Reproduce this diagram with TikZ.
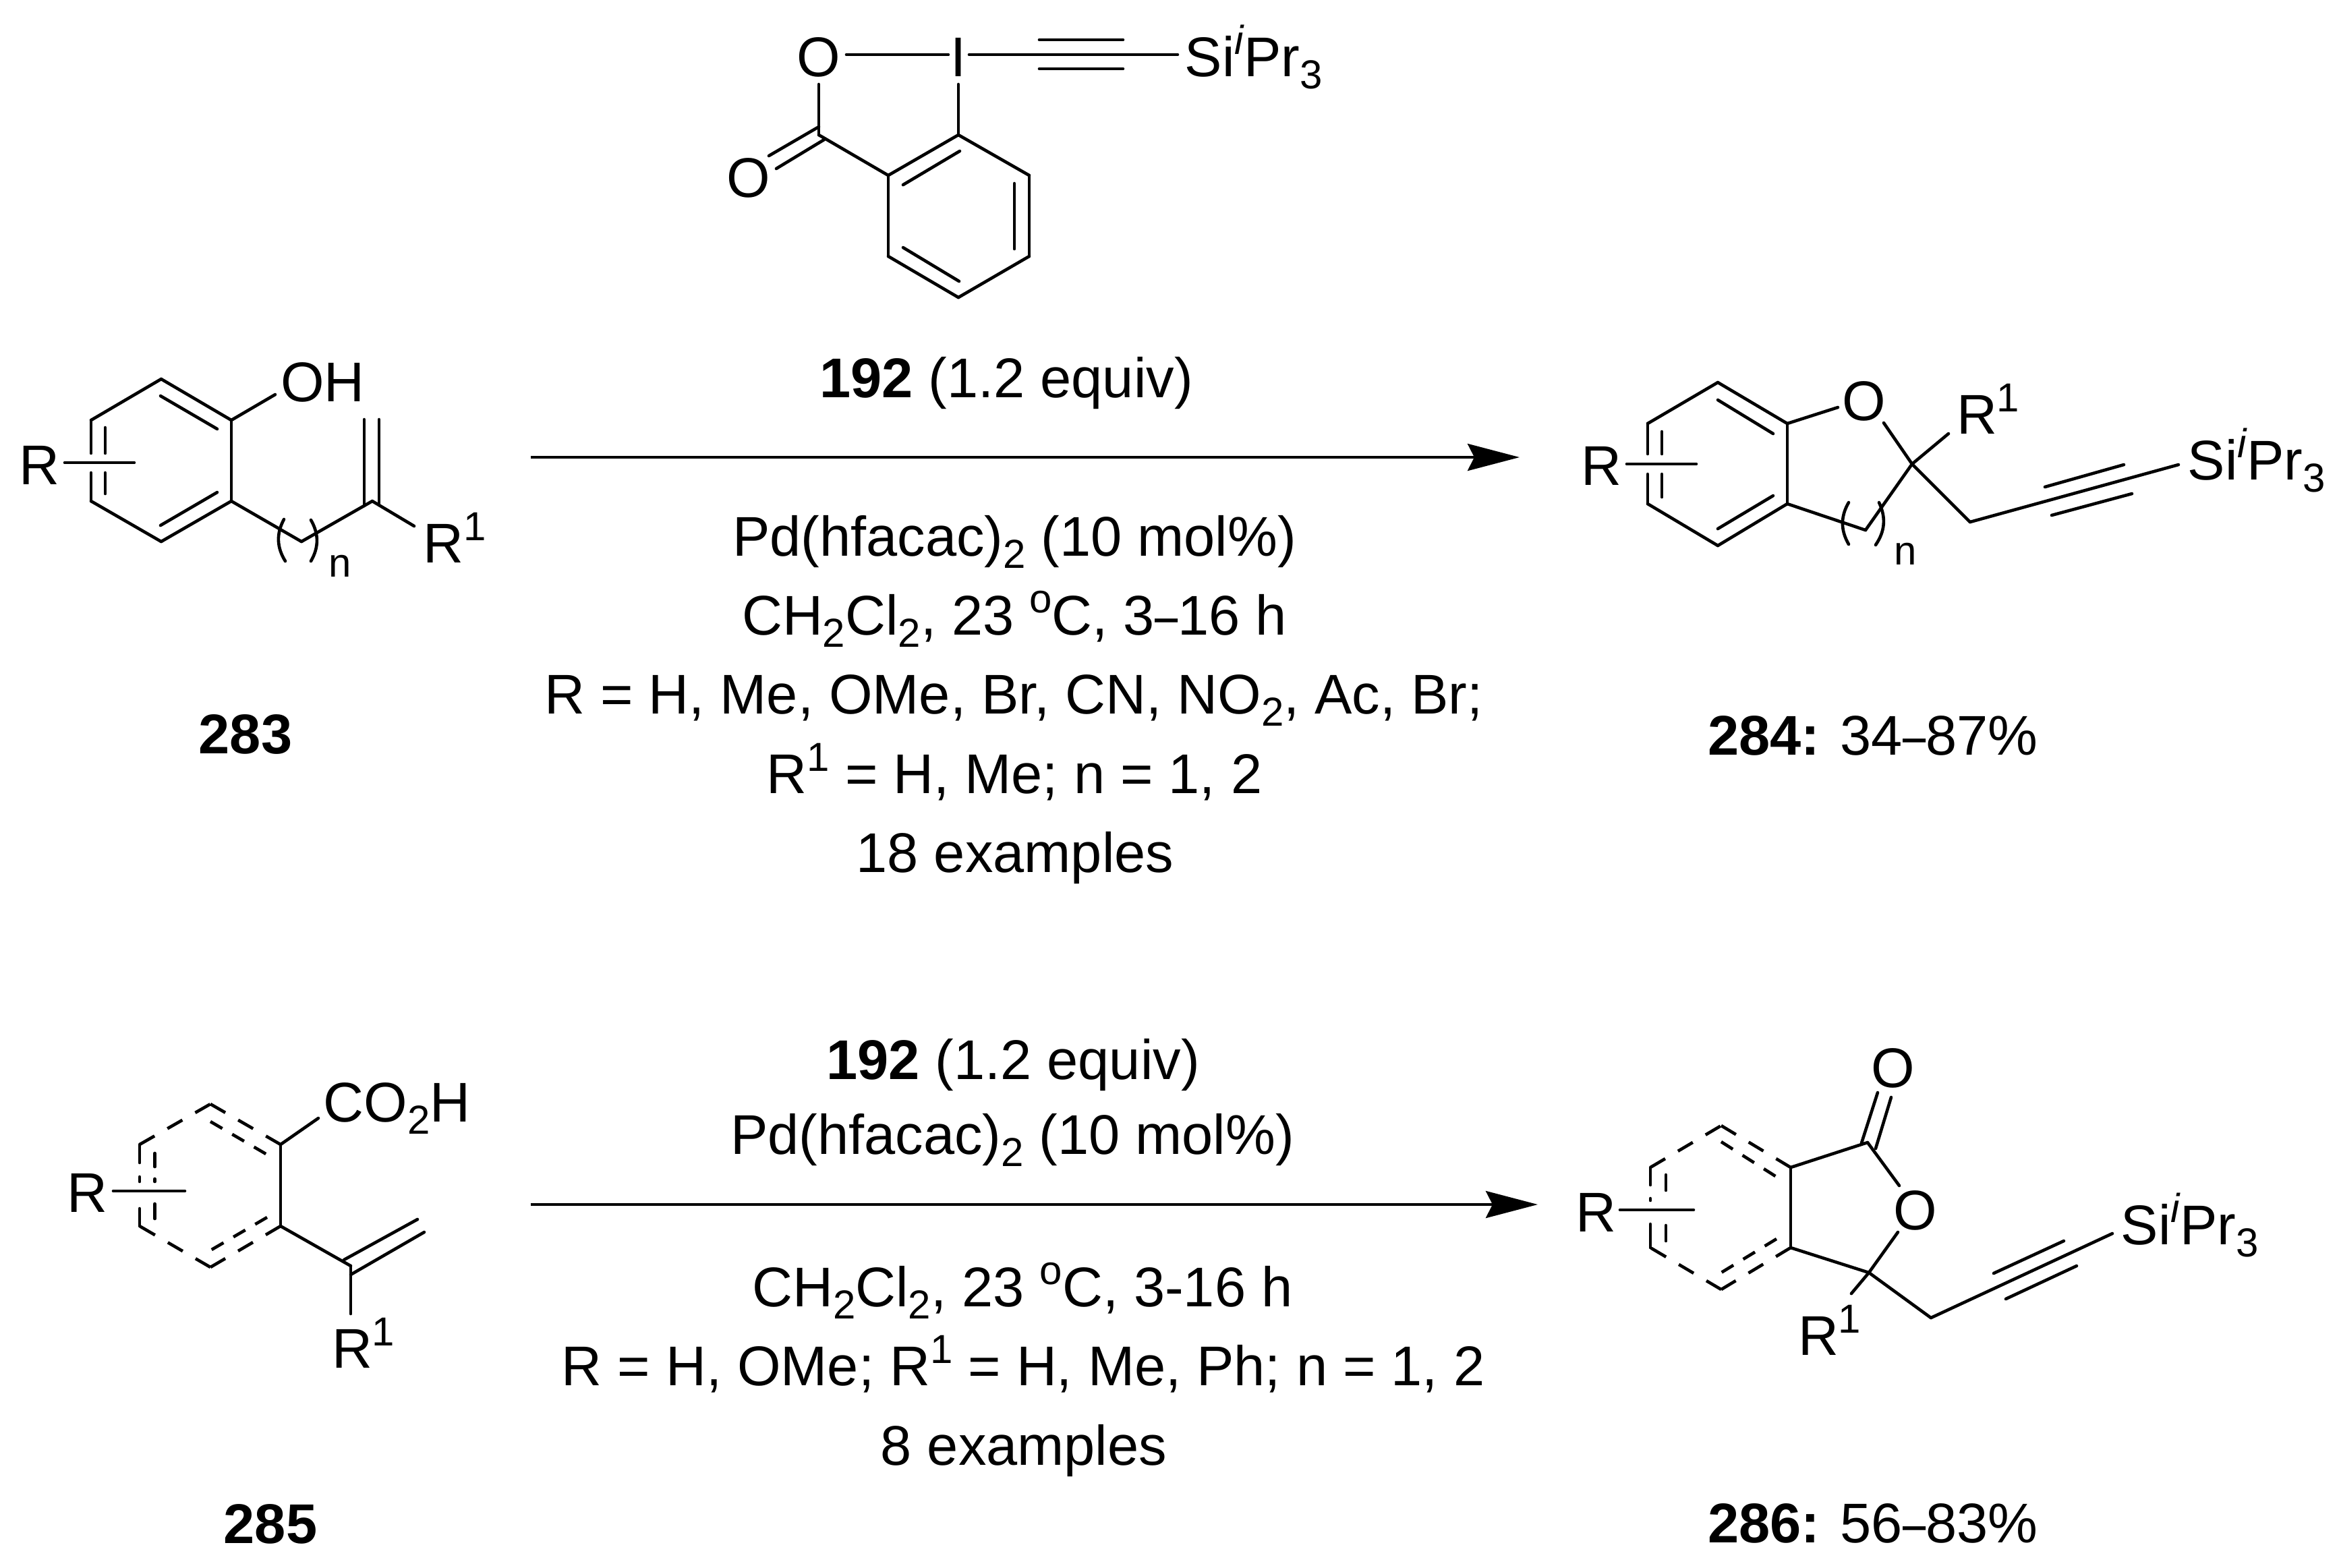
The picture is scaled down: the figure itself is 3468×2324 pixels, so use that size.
\documentclass[tikz,border=0pt]{standalone}
\usepackage{fontspec}
\setmainfont{Liberation Sans}
\usetikzlibrary{arrows.meta}

\newcommand{\chemfont}{\fontsize{8.3pt}{10pt}\selectfont}
\newcommand{\chemup}[1]{\raisebox{3.3pt}{\fontsize{6pt}{7pt}\selectfont #1}}
\newcommand{\chemdn}[1]{\raisebox{-1.8pt}{\fontsize{6pt}{7pt}\selectfont #1}}
\newcommand{\tips}{Si\chemup{\itshape i}Pr\chemdn{3}}
\newcommand{\rangedash}{\scalebox{0.74}[1]{–}}

\begin{document}
\begin{tikzpicture}[
        x=0.1pt, y=-0.1pt,
        every node/.style={inner sep=0pt, font=\chemfont},
        atom/.style={anchor=base},
        label/.style={anchor=base west},
        caption/.style={anchor=base, align=center},
        bond/.style={line width=0.46pt, line cap=round},
        dbond/.style={bond, line cap=butt, dash pattern=on 2.55pt off 2.2pt},
        ibond/.style={bond, line cap=butt, dash pattern=on 2.04pt off 1.7pt},
        rxn/.style={line width=0.42pt, -{Stealth[length=7.7pt, width=4pt, inset=1pt]}}
    ]

    \path[use as bounding box, fill=white] (0,0) rectangle (3468,2324);

    % Reagent 192
    \node[atom] (rO) at (1214,113) {O};
    \node[atom] (rI) at (1421,113) {I};
    \node[label] (rSi) at (1755,113) {\tips};
    \node[atom] (rOx) at (1110,292) {O};
    \foreach \n/\x/\y in {
        ra/1255/81, rb/1406/81, rc/1437/81, rd/1746/81, re/1541/59, rf/1665/59, rg/1541/102, rh/1665/102,
        ri/1214/125, rj/1214/200, rk/1421/125, r1/1421/200, r2/1526/260, r3/1526/380, r4/1421/441, r5/1317/380, r6/1317/260,
        s1/1423/224, s2/1339/274, s3/1504/272, s4/1504/369, s5/1339/367, s6/1422/417,
        s7/1214/188, s8/1140/231, s9/1222/207, s10/1151/250}
        \coordinate (\n) at (\x,\y);
    \foreach \a/\b in {ra/rb, rc/rd, re/rf, rg/rh, ri/rj, rk/r1, r1/r2, r2/r3, r3/r4, r4/r5, r5/r6, r6/r1, rj/r6,
        s1/s2, s3/s4, s5/s6, s7/s8, s9/s10}
        \draw[bond] (\a) -- (\b);

    % Substrate 283
    \node[label] (aR) at (26,718) {R};
    \node[label] (aOH) at (414,595) {OH};
    \node[label] (aRi) at (626,834) {R\chemup{1}};
    \node[label] (an) at (486,855) {\fontsize{6pt}{7pt}\selectfont n};
    \foreach \n/\x/\y in {
        a1/239/562, a2/343/623, a3/343/743, a4/239/803, a5/135/743, a6/135/623,
        aa/135/672, ab/135/701, ac/156/634, ad/156/672, ae/156/701, af/156/732,
        ag/96/686, ah/199/686, ai/238/587, aj/322/636, ak/322/730, al/238/779,
        am/408/585, ao/447/803, ap/552/743, aq/614/780,
        at/540/622, au/540/750, av/562/622, aw/562/749,
        p1/421/770, p2/423/832, p3/461/771, p4/461/832}
        \coordinate (\n) at (\x,\y);
    \foreach \a/\b in {a6/a1, a1/a2, a2/a3, a3/a4, a4/a5, a5/ab, aa/a6, ac/ad, ae/af, ag/ah, ai/aj, ak/al,
        a2/am, a3/ao, ao/ap, ap/aq, at/au, av/aw}
        \draw[bond] (\a) -- (\b);
    \draw[bond] (p1) to[bend right=30] (p2);
    \draw[bond] (p3) to[bend left=30] (p4);
    \node[caption, font=\chemfont\bfseries] (n283) at (364,1117) {283};

    % Product 284
    \node[label] (bR) at (2342,719) {R};
    \node[atom] (bO) at (2764,623) {O};
    \node[label] (bRi) at (2899,643) {R\chemup{1}};
    \node[label] (bSi) at (3242,711) {\tips};
    \node[label] (bn) at (2807,837) {\fontsize{6pt}{7pt}\selectfont n};
    \foreach \n/\x/\y in {
        b1/2547/567, b2/2650/628, b3/2650/747, b4/2547/809, b5/2443/747, b6/2443/628,
        ba/2443/673, bb/2443/703, bc/2464/640, bd/2464/673, be/2464/703, bf/2464/737,
        bg/2412/688, bh/2515/688, bi/2547/593, bj/2629/643, bk/2629/735, bl/2547/784,
        bm/2725/604, bo/2793/627, bp/2835/688, bq/2889/643, br/2766/786, bs/2921/774, bt/3230/689,
        bu/3032/722, bv/3149/689, bw/3042/764, bx/3161/732,
        q1/2741/745, q2/2741/807, q3/2786/745, q4/2781/808}
        \coordinate (\n) at (\x,\y);
    \foreach \a/\b in {b6/b1, b1/b2, b2/b3, b3/b4, b4/b5, b5/bb, ba/b6, bc/bd, be/bf, bg/bh, bi/bj, bk/bl,
        b2/bm, bo/bp, bp/bq, bp/br, b3/br, bp/bs, bs/bt, bu/bv, bw/bx}
        \draw[bond] (\a) -- (\b);
    \draw[bond] (q1) to[bend right=30] (q2);
    \draw[bond] (q3) to[bend left=30] (q4);
    \node[label, font=\chemfont] (n284) at (2530,1119) {\textbf{284:} 34\rangedash 87\%};

    % Substrate 285
    \node[label] (cR) at (98,1797) {R};
    \node[label] (cCO) at (478,1663) {CO\chemdn{2}H};
    \node[label] (cRi) at (490,2028) {R\chemup{1}};
    \foreach \n/\x/\y in {
        c1/312/1637, c2/416/1697, c3/416/1818, c4/312/1879, c5/207/1818, c6/207/1697,
        ca/207/1724, cb/207/1745, cc/207/1752, cd/207/1792,
        ce/229.5/1710, cf/229.5/1730, cg/229.5/1748, ch/229.5/1752, ci/229.5/1785, cj/229.5/1807,
        ck/168/1766, cl/274/1766, cm/312/1663, co/396/1712, cp/396/1805, cq/312/1854,
        cr/472/1658, cs/520/1877, ct/510/1868, cu/619/1808, cv/520/1890, cw/629/1827, cx/520/1948}
        \coordinate (\n) at (\x,\y);
    \foreach \a/\b in {c1/c2, c3/c4, c4/c5, c6/c1}
        \draw[dbond] (\a) -- (\b);
    \foreach \a/\b in {cm/co, cp/cq}
        \draw[ibond] (\a) -- (\b);
    \foreach \a/\b in {c6/ca, cb/cc, cd/c5, ce/cf, cg/ch, ci/cj, ck/cl, c2/c3, c2/cr, c3/cs, ct/cu, cv/cw, cs/cx}
        \draw[bond] (\a) -- (\b);
    \node[caption, font=\chemfont\bfseries] (n285) at (401,2288) {285};

    % Product 286
    \node[label] (dR) at (2335,1826) {R};
    \node[atom] (dOx) at (2807,1612) {O};
    \node[atom] (dO) at (2840,1823) {O};
    \node[label] (dRi) at (2664,2009) {R\chemup{1}};
    \node[label] (dSi) at (3143,1845) {\tips};
    \foreach \n/\x/\y in {
        d1/2552/1669, d2/2655/1731, d3/2655/1850, d4/2552/1912, d5/2447/1850, d6/2447/1731,
        da/2447/1757, db/2447/1777, dc/2447/1780, dd/2447/1815,
        de/2470/1742, df/2470/1765, dg/2470/1817, dh/2470/1840,
        di/2402/1794, dj/2511/1794, dk/2552/1693, dl/2634/1745, dm/2634/1837, dn/2552/1887,
        dp/2769/1694, dq/2784/1620, dr/2760/1695, ds/2804/1627, dt/2781/1703,
        du/2816/1758, dv/2814/1827, dw/2771/1887, dx/2745/1918, dy/2863/1954, dz/3132/1829,
        e1/2956/1888, e2/3060/1840, e3/2974/1926, e4/3079/1877}
        \coordinate (\n) at (\x,\y);
    \foreach \a/\b in {d1/d2, d3/d4, d4/d5, d6/d1}
        \draw[dbond] (\a) -- (\b);
    \foreach \a/\b in {dk/dl, dm/dn}
        \draw[ibond] (\a) -- (\b);
    \foreach \a/\b in {d6/da, db/dc, dd/d5, de/df, dg/dh, di/dj, d2/d3, d2/dp, dq/dr, ds/dt, dp/du, dv/dw, d3/dw,
        dw/dx, dw/dy, dy/dz, e1/e2, e3/e4}
        \draw[bond] (\a) -- (\b);
    \node[label, font=\chemfont] (n286) at (2530,2287) {\textbf{286:} 56\rangedash 83\%};

    % Upper arrow
    \coordinate (u1) at (787,678);
    \coordinate (u2) at (2253,678);
    \draw[rxn] (u1) -- (u2);
    \node[caption] (ua) at (1492,589) {\textbf{192} (1.2 equiv)};
    \node[caption] (ub) at (1504,824) {Pd(hfacac)\chemdn{2} (10 mol\%)};
    \node[caption] (uc) at (1504,941) {CH\chemdn{2}Cl\chemdn{2}, 23 \chemup{o}C, 3\rangedash 16 h};
    \node[caption] (ud) at (1503,1058) {R = H, Me, OMe, Br, CN, NO\chemdn{2}, Ac, Br;};
    \node[caption] (ue) at (1504,1176) {R\chemup{1} = H, Me; n = 1, 2};
    \node[caption] (uf) at (1505,1293) {18 examples};

    % Lower arrow
    \coordinate (l1) at (787,1786);
    \coordinate (l2) at (2280,1786);
    \draw[rxn] (l1) -- (l2);
    \node[caption] (la) at (1502,1600) {\textbf{192} (1.2 equiv)};
    \node[caption] (lb) at (1501,1711) {Pd(hfacac)\chemdn{2} (10 mol\%)};
    \node[caption] (lc) at (1516,1937) {CH\chemdn{2}Cl\chemdn{2}, 23 \chemup{o}C, 3-16 h};
    \node[caption] (ld) at (1517,2054) {R = H, OMe; R\chemup{1} = H, Me, Ph; n = 1, 2};
    \node[caption] (le) at (1518,2172) {8 examples};

\end{tikzpicture}
\end{document}
